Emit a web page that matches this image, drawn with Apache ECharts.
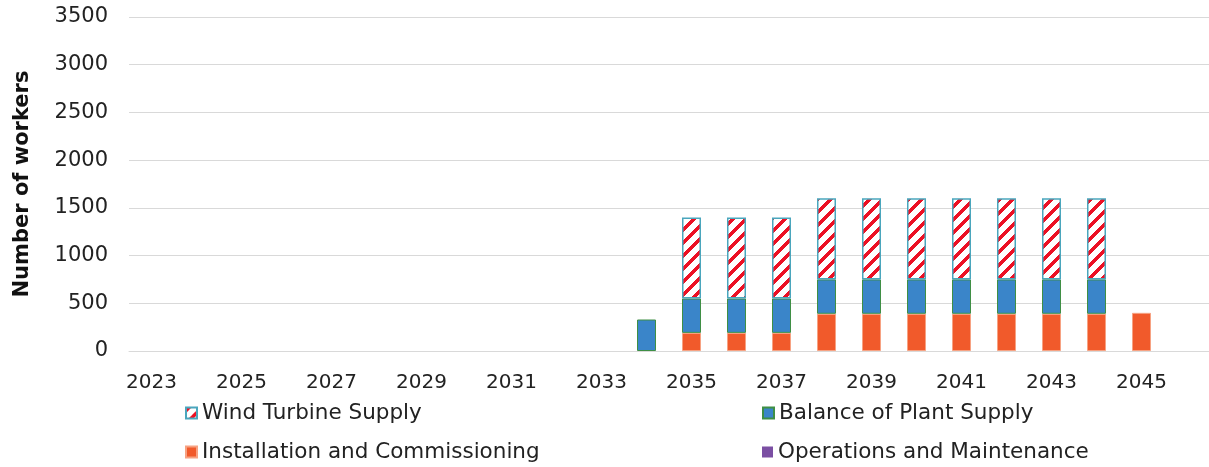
<!DOCTYPE html>
<html>
<head>
<meta charset="utf-8">
<script src="https://cdn.jsdelivr.net/npm/echarts@6/dist/echarts.min.js"></script>
<style>
html,body{margin:0;padding:0;background:#fff;}
#chart{width:1209px;height:467px;}
</style>
</head>
<body>
<div id="chart"></div>
<script>
const years = ['2023','2024','2025','2026','2027','2028','2029','2030','2031','2032','2033','2034','2035','2036','2037','2038','2039','2040','2041','2042','2043','2044','2045','2046'];
const installation = [0,0,0,0,0,0,0,0,0,0,0,0,190,190,190,390,390,390,390,390,390,390,400,0];
const balancePlant = [0,0,0,0,0,0,0,0,0,0,0,330,360,360,360,360,360,360,360,360,360,360,0,0];
const windTurbine = [0,0,0,0,0,0,0,0,0,0,0,0,850,850,850,850,850,850,850,850,850,850,0,0];
const operations = [0,0,0,0,0,0,0,0,0,0,0,0,0,0,0,0,0,0,0,0,0,0,0,0];
const yTicks = [0,500,1000,1500,2000,2500,3000,3500];
const seriesNames = ['Wind Turbine Supply', 'Balance of Plant Supply', 'Installation and Commissioning', 'Operations and Maintenance'];

function hatch() {
  const n = 13, c = document.createElement('canvas');
  c.width = n; c.height = n;
  const ctx = c.getContext('2d');
  const img = ctx.createImageData(n, n);
  for (let y = 0; y < n; y++) for (let x = 0; x < n; x++) {
    const i = (y * n + x) * 4;
    const red = ((x + y) % n) < 5;
    img.data[i] = red ? 236 : 255;
    img.data[i+1] = red ? 16 : 255;
    img.data[i+2] = red ? 36 : 255;
    img.data[i+3] = 255;
  }
  ctx.putImageData(img, 0, 0);
  return c;
}
const hatchCanvas = hatch();

const font = 'DejaVu Sans';
const chart = echarts.init(document.getElementById('chart'), null, {renderer: 'canvas'});
const nz = a => a.map(v => v === 0 ? null : v);
const legendPos = [[185, 402], [762, 402], [185, 441], [762, 441]];
const legends = seriesNames.map((nm, i) => ({
  orient: 'horizontal', left: legendPos[i][0], top: legendPos[i][1],
  icon: 'rect', itemWidth: 11, itemHeight: 11, itemGap: 10, padding: 0,
  textStyle: {fontSize: 21.5, lineHeight: 22, color: '#222', fontFamily: font, padding: [0,0,0,0]},
  data: [nm]
}));
chart.setOption({
  animation: false,
  textStyle: {fontFamily: font},
  grid: {left: 129, right: 0, top: 17, bottom: 116, containLabel: false},
  xAxis: {
    type: 'category', data: years,
    axisTick: {show: false},
    axisLine: {lineStyle: {color: '#d9d9d9', width: 1}},
    axisLabel: {interval: 1, margin: 22, fontSize: 20, color: '#222', fontFamily: font}
  },
  yAxis: {
    type: 'value', min: yTicks[0], max: yTicks[yTicks.length-1], interval: 500,
    name: 'Number of workers', nameLocation: 'middle', nameRotate: 90, nameGap: 96,
    nameTextStyle: {fontSize: 21, fontWeight: 'bold', color: '#111', fontFamily: font},
    axisLine: {show: false}, axisTick: {show: false},
    splitLine: {lineStyle: {color: '#d9d9d9', width: 1}},
    axisLabel: {margin: 21, fontSize: 21, color: '#222', fontFamily: font, formatter: v => String(v)}
  },
  legend: legends,
  series: [
    {name: 'Installation and Commissioning', type: 'bar', stack: 't', barWidth: 19, data: nz(installation),
     itemStyle: {color: '#f15a2b', borderColor: '#f7a282', borderWidth: 1}},
    {name: 'Balance of Plant Supply', type: 'bar', stack: 't', barWidth: 19, data: nz(balancePlant),
     itemStyle: {color: '#3a85c9', borderColor: '#3f8f45', borderWidth: 1}},
    {name: 'Wind Turbine Supply', type: 'bar', stack: 't', barWidth: 19, data: nz(windTurbine),
     itemStyle: {color: {image: hatchCanvas, repeat: 'repeat'}, borderColor: '#4aa6bd', borderWidth: 1.5}},
    {name: 'Operations and Maintenance', type: 'bar', stack: 't', barWidth: 19, data: nz(operations),
     itemStyle: {color: '#7b4fa3'}}
  ]
});
</script>
</body>
</html>
